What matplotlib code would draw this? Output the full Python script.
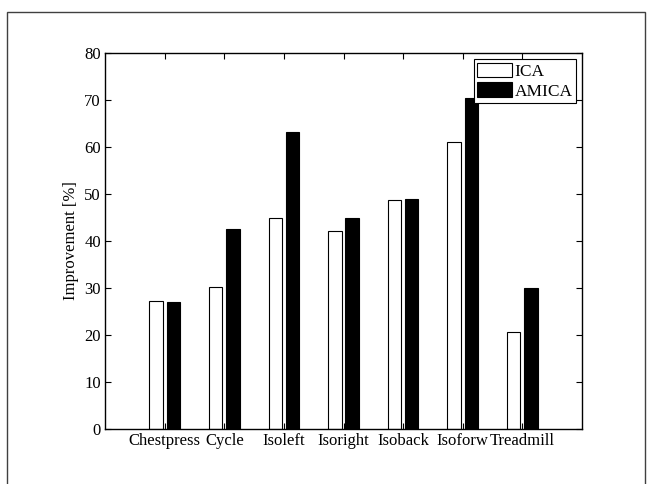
import matplotlib
matplotlib.use("Agg")
import matplotlib.pyplot as plt
import numpy as np
from matplotlib.patches import Rectangle

# data
categories = ["Chestpress", "Cycle", "Isoleft", "Isoright", "Isoback", "Isoforw", "Treadmill"]
ica = [27.2, 30.3, 45.0, 42.1, 48.7, 61.0, 20.7]
amica = [27.0, 42.5, 63.1, 44.9, 48.9, 70.4, 30.0]

plt.rcParams['font.family'] = ['Liberation Serif', 'DejaVu Serif']
plt.rcParams['font.size'] = 12

fig = plt.figure(figsize=(6.52, 4.84), dpi=100)
# outer frame like the exported figure
fig.patches.append(Rectangle((7/652, -0.01), (645-7)/652, 1.01-12/484, transform=fig.transFigure,
                             fill=False, edgecolor='#404040', linewidth=1.0))
ax = fig.add_axes([105/652, 55/484, (582-105)/652, (429-53)/484])

x = np.arange(1, len(categories) + 1)
w = 0.225
ax.bar(x - 0.145, ica, w, color='white', edgecolor='black', linewidth=0.8, label='ICA')
ax.bar(x + 0.145, amica, w, color='black', edgecolor='black', linewidth=0.8, label='AMICA')

ax.set_xlim(0, 8)
ax.set_ylim(0, 80)
ax.set_xticks(x)
ax.set_xticklabels(categories)
ax.set_yticks(np.arange(0, 81, 10))
ax.set_ylabel("Improvement [%]", labelpad=4)
ax.tick_params(direction='in', top=True, right=True, length=4, width=0.8, pad=3)
for s in ax.spines.values():
    s.set_linewidth(1.0)

leg = ax.legend(loc='upper right', fancybox=False, framealpha=1, edgecolor='black',
                handlelength=2.0, handleheight=0.9, borderaxespad=0.35, borderpad=0.2,
                labelspacing=0.15, handletextpad=0.15, fontsize=12.5)
leg.get_frame().set_linewidth(0.8)

fig.savefig("out.png", dpi=100)
